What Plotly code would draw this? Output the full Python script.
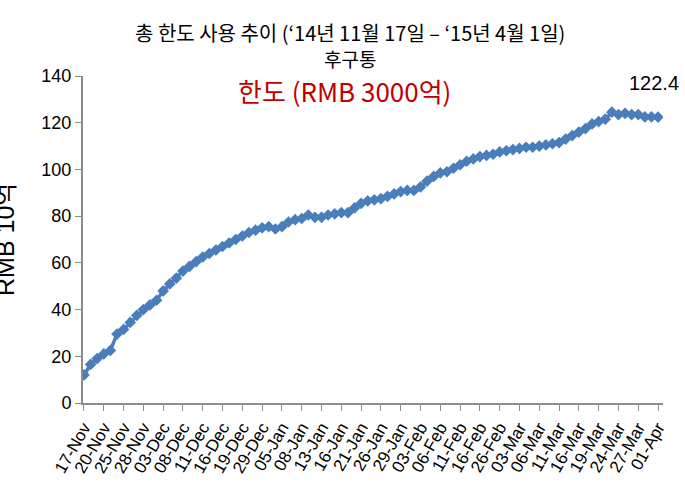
import plotly.graph_objects as go

# Daily usage of the total quota (RMB 10억), 17-Nov-2014 .. 01-Apr-2015
usage = [
    12, 16.5, 19, 21, 22.5, 29.5, 31.5, 34.5, 37.5, 40,
    42, 44, 48, 51, 53.5, 56.5, 58.5, 60.5, 62.5, 64,
    65.5, 67, 68.5, 70, 71.5, 73, 74, 75, 75.5, 74.5,
    75.5, 77.5, 78.5, 79, 80.5, 79.5, 79.5, 80.5, 81, 81.5,
    81.5, 83.5, 85.5, 86.5, 87, 87.5, 88.5, 89.5, 90.5, 91,
    91, 92.5, 95, 97, 98.5, 99, 100.5, 102, 103.5, 104.5,
    105.5, 106, 106.5, 107.5, 108, 108.5, 109, 109.5, 109.5, 110,
    110.5, 111, 111.5, 113, 114.5, 116, 117.5, 119.5, 120.5, 121.5,
    124.5, 123.5, 124, 123.5, 123.5, 122.5, 122.5, 122.4,
]

tick_labels = [
    "17-Nov", "20-Nov", "25-Nov", "28-Nov", "03-Dec", "08-Dec", "11-Dec",
    "16-Dec", "19-Dec", "29-Dec", "05-Jan", "08-Jan", "13-Jan", "16-Jan",
    "21-Jan", "26-Jan", "29-Jan", "03-Feb", "06-Feb", "11-Feb", "16-Feb",
    "26-Feb", "03-Mar", "06-Mar", "11-Mar", "16-Mar", "19-Mar", "24-Mar",
    "27-Mar", "01-Apr",
]
tick_step = 3

title_line1 = "총 한도 사용 추이 (‘14년 11월 17일 – ‘15년 4월 1일)"
title_line2 = "후구통"
subtitle = "한도 (RMB 3000억)"
y_title = "RMB 10억"
last_label = "122.4"

x_idx = list(range(len(usage)))
tick_pos = [i * tick_step for i in range(len(tick_labels))]

BLUE = "#4A7EBB"
FONT = "Noto Sans CJK KR"
TICKFONT = "Liberation Sans, Noto Sans CJK KR"

fig = go.Figure()
fig.add_trace(go.Scatter(
    x=x_idx, y=usage, mode="lines+markers",
    line=dict(color=BLUE, width=3.5),
    marker=dict(symbol="diamond", size=9, color=BLUE),
    hoverinfo="y", showlegend=False,
))

W, H = 685, 497
L, R, T, B = 83, 22, 76, 94
pw = W - L - R
ph = H - T - B


def px_x(px):
    return (px - L) / pw


def px_y(py):
    return (H - B - py) / ph


fig.update_layout(
    width=W, height=H,
    margin=dict(l=L, r=R, t=T, b=B),
    paper_bgcolor="white", plot_bgcolor="white",
    showlegend=False,
    xaxis=dict(
        range=[-0.15, 87.75],
        tickmode="array", tickvals=tick_pos, ticktext=tick_labels,
        tickangle=-60,
        tickfont=dict(family=TICKFONT, size=17, color="black"),
        showgrid=False, zeroline=False,
        showline=True, linecolor="#8C8C8C", linewidth=2,
        ticks="outside", ticklen=6, tickcolor="#8C8C8C", tickwidth=1,
    ),
    yaxis=dict(
        range=[0, 140], dtick=20, tick0=0,
        tickfont=dict(family=TICKFONT, size=18, color="black"),
        showgrid=False, zeroline=False,
        showline=True, linecolor="#8C8C8C", linewidth=2,
        ticks="outside", ticklen=6, tickcolor="#8C8C8C", tickwidth=1,
    ),
    annotations=[
        dict(text=title_line1, xref="paper", yref="paper",
             x=px_x(350), y=px_y(32),
             showarrow=False, font=dict(family=FONT, size=20, color="black"),
             xanchor="center", yanchor="middle"),
        dict(text=title_line2, xref="paper", yref="paper",
             x=px_x(350), y=px_y(58),
             showarrow=False, font=dict(family=FONT, size=19, color="black"),
             xanchor="center", yanchor="middle"),
        dict(text=subtitle, xref="paper", yref="paper",
             x=px_x(344), y=px_y(90),
             showarrow=False, font=dict(family=FONT, size=26, color="#C00000"),
             xanchor="center", yanchor="middle"),
        dict(text=y_title, xref="paper", yref="paper",
             x=px_x(5), y=px_y(240),
             showarrow=False, textangle=-90,
             font=dict(family=TICKFONT, size=25, color="black"),
             xanchor="center", yanchor="middle"),
        dict(text=last_label, xref="paper", yref="paper",
             x=px_x(654), y=px_y(83),
             showarrow=False,
             font=dict(family=TICKFONT, size=20, color="black"),
             xanchor="center", yanchor="middle"),
    ],
)

fig.write_html("out.html", config={"displayModeBar": False},
               post_script="document.body.style.margin='0';")
